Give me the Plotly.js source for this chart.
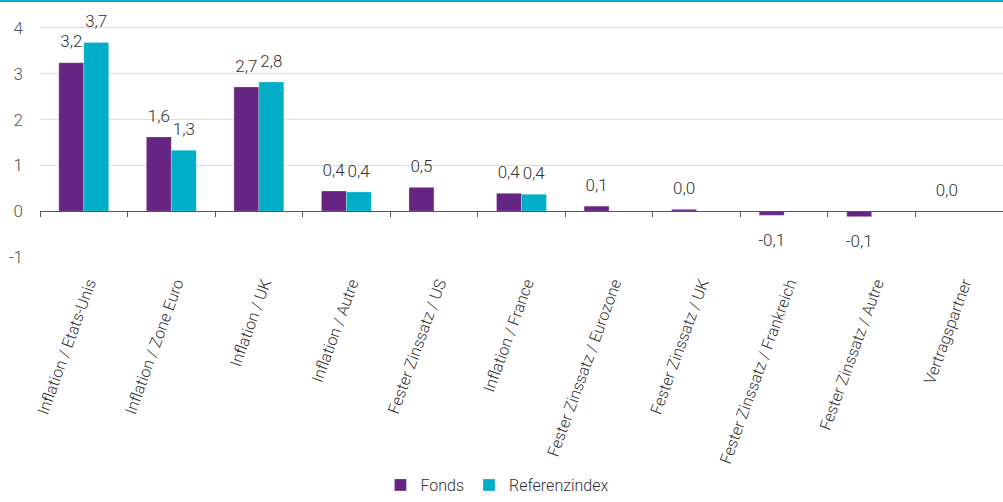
<!DOCTYPE html>
<html>
<head>
<meta charset="utf-8">
<script src="https://cdn.plot.ly/plotly-3.0.1.min.js"></script>
<style>
  html, body { margin: 0; padding: 0; background: #fff; }
  #wrap { position: relative; width: 1003px; height: 502px; }
  #chart { width: 1003px; height: 502px; }
  #topbar { position: absolute; left: 0; top: 0; width: 1003px; height: 2px; background: #00AEC7; }
</style>
</head>
<body>
<div id="wrap">
  <div id="chart"></div>
  <div id="topbar"></div>
</div>
<script>
const categories = [
  "Inflation / Etats-Unis",
  "Inflation / Zone Euro",
  "Inflation / UK",
  "Inflation / Autre",
  "Fester Zinssatz / US",
  "Inflation / France",
  "Fester Zinssatz / Eurozone",
  "Fester Zinssatz / UK",
  "Fester Zinssatz / Frankreich",
  "Fester Zinssatz / Autre",
  "Vertragspartner"
];
const fondsValues = [3.24, 1.62, 2.71, 0.44, 0.52, 0.39, 0.11, 0.04, -0.09, -0.12, 0.004];
const refValues   = [3.68, 1.33, 2.82, 0.42, null, 0.37, null, null, null, null, null];
const seriesNames = ["Fonds", "Referenzindex"];
const yTicks = [-1, 0, 1, 2, 3, 4];

const FONT = "Roboto, 'Noto Sans', sans-serif";
const PURPLE = "#662483";
const TEAL = "#00AEC7";

// value labels: number in 17px, with a small invisible spacer line to keep
// the label a little away from the bar end (above for positive, below for negative)
const NUM = "<span style='font-size:17px'>%{y:.1f}</span>";
const SPACER = "<span style='fill:rgba(0,0,0,0)'>.</span>";
const POS_TPL = NUM + "<br>" + SPACER;
const NEG_TPL = SPACER + "<br>" + SPACER + "<br>" + NUM;
const tplFor = vals => vals.map(v => (v !== null && v < 0) ? NEG_TPL : POS_TPL);

const textFont = {family: FONT, size: 8, color: "#333", weight: 300};

const traces = [
  {
    type: "bar", name: seriesNames[0], x: categories, y: fondsValues,
    marker: {color: PURPLE, line: {color: "rgba(255,255,255,0.5)", width: 0.5}},
    texttemplate: tplFor(fondsValues), textposition: "outside", textfont: textFont,
    constraintext: "none", cliponaxis: false, hoverinfo: "x+y"
  },
  {
    type: "bar", name: seriesNames[1], x: categories, y: refValues,
    marker: {color: TEAL, line: {color: "rgba(255,255,255,0.5)", width: 0.5}},
    texttemplate: tplFor(refValues), textposition: "outside", textfont: textFont,
    constraintext: "none", cliponaxis: false, hoverinfo: "x+y"
  },
  {
    type: "scatter", x: [], y: [], xaxis: "x2", showlegend: false, hoverinfo: "skip"
  }
];

const yMin = -1, yMax = 4.5;

const layout = {
  width: 1003, height: 502,
  margin: {l: 40, r: 0, t: 5, b: 245},
  paper_bgcolor: "#fff", plot_bgcolor: "#fff",
  separators: ", ",
  font: {family: FONT, size: 16, color: "#333", weight: 300},
  barmode: "group",
  bargap: 0.43,
  bargroupgap: 0,
  xaxis: {
    type: "category",
    categoryarray: categories,
    showline: false, showgrid: false, zeroline: false,
    ticks: "",
    tickangle: -70,
    tickfont: {family: FONT, size: 16, color: "#333", weight: 300},
    ticklabelstandoff: 13,
    ticklabelshift: 5,
    automargin: false
  },
  xaxis2: {
    overlaying: "x",
    anchor: "free",
    position: (0 - yMin) / (yMax - yMin),
    type: "linear",
    range: [-0.5, categories.length - 0.5],
    tick0: -0.5, dtick: 1,
    ticks: "outside", ticklen: 5, tickcolor: "#555", tickwidth: 1,
    showline: true, linecolor: "#555", linewidth: 1,
    showticklabels: false, showgrid: false, zeroline: false,
    fixedrange: true
  },
  yaxis: {
    range: [yMin, yMax],
    tickvals: yTicks,
    ticktext: yTicks.map(String),
    showgrid: true, gridcolor: "#dedede", gridwidth: 1,
    zeroline: false, showline: false, ticks: "",
    tickfont: {family: FONT, size: 17, color: "#555", weight: 300},
    ticklabelstandoff: 16,
    automargin: false
  },
  legend: {
    orientation: "h", x: 0.475, xanchor: "center", y: 0.0, yref: "container", yanchor: "bottom",
    font: {family: FONT, size: 16, color: "#333", weight: 300},
    itemwidth: 30, tracegroupgap: 0
  },
  showlegend: true
};

Plotly.newPlot("chart", traces, layout, {displayModeBar: false, staticPlot: true});
</script>
</body>
</html>
